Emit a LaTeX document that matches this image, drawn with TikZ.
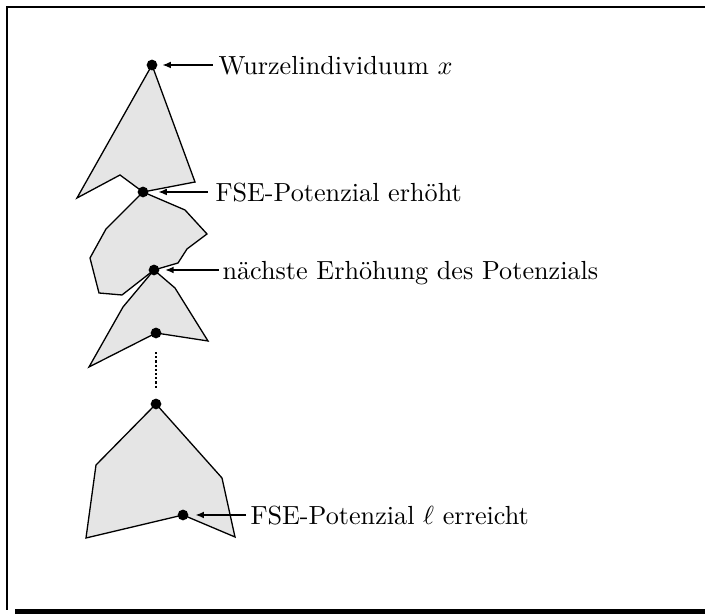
\documentclass[tikz,border=0pt]{standalone}
\usepackage{fontspec}
\usetikzlibrary{arrows.meta}
\begin{document}
\begin{tikzpicture}[x=0.382pt,y=-0.382pt,
  region/.style={draw=black, fill=gray!20, line width=0.5pt, line join=miter},
  dotnode/.style={circle, fill=black, inner sep=0pt, minimum size=4.1pt},
  lab/.style={anchor=west, inner sep=0pt, text height=7pt, text depth=0pt},
  arr/.style={-{Latex[length=3.2pt,width=2.6pt]}, line width=0.5pt},
  framestyle/.style={line width=0.55pt}]
\useasboundingbox (0,0) rectangle (705,614);
% frame
\draw[framestyle] (705,7) -- (7,7) -- (7,610);
\fill[black] (15,609.5) rectangle (705,614);
% points
\coordinate (p1) at (152,65);
\coordinate (p2) at (143,192);
\coordinate (p3) at (154,270);
\coordinate (p4) at (156,333);
\coordinate (p5) at (156,404);
\coordinate (p6) at (183,515);
% regions
\filldraw[region] (p1) -- (195,182) -- (p2) -- (120,175) -- (77,198) -- cycle;
\filldraw[region] (p2) -- (185,210) -- (207,234) -- (187,249) -- (178,263) -- (p3) -- (122,295) -- (99,293) -- (90,258) -- (106,229) -- cycle;
\filldraw[region] (p3) -- (175,288) -- (208,341) -- (p4) -- (89,367) -- (123,307) -- cycle;
\filldraw[region] (p5) -- (222,478) -- (235,537) -- (p6) -- (86,538) -- (96,465) -- cycle;
% dots
\node[dotnode] (d1) at (p1) {};
\node[dotnode] (d2) at (p2) {};
\node[dotnode] (d3) at (p3) {};
\node[dotnode] (d4) at (p4) {};
\node[dotnode] (d5) at (p5) {};
\node[dotnode] (d6) at (p6) {};
\draw[dash pattern=on 0.8pt off 0.8pt, line width=0.8pt, shorten <=7.3pt, shorten >=6.1pt] (d4.center) -- (d5.center);
% labels
\node[lab] (l1) at (218,65) {Wurzelindividuum $x$};
\node[lab] (l2) at (215,192) {FSE-Potenzial erhöht};
\node[lab] (l3) at (222,270) {nächste Erhöhung des Potenzials};
\node[lab] (l4) at (250,515) {FSE-Potenzial $\ell$ erreicht};
\draw[arr, shorten <=2pt, shorten >=4pt] (l1.west) -- (d1.center);
\draw[arr, shorten <=2.7pt, shorten >=5.9pt] (l2.west) -- (d2.center);
\draw[arr, shorten <=1.3pt, shorten >=4.3pt] (l3.west) -- (d3.center);
\draw[arr, shorten <=1.5pt, shorten >=4.8pt] (l4.west) -- (d6.center);
\end{tikzpicture}
\end{document}
